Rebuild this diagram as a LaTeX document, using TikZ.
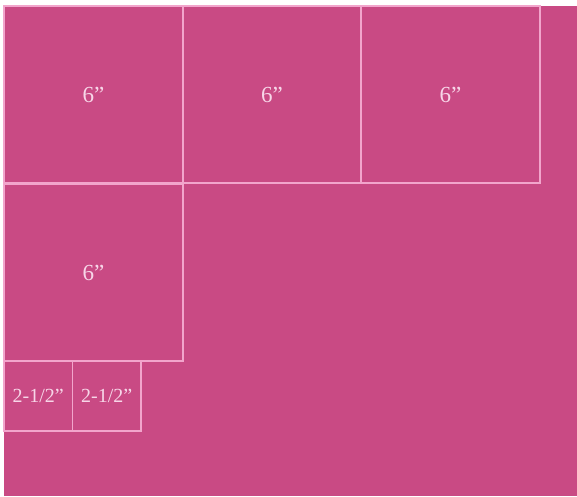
\documentclass[tikz,border=0pt]{standalone}
\usepackage{fontspec}
\setmainfont{Liberation Serif}
\usepackage{tikz}
\usetikzlibrary{positioning}
\definecolor{quiltpink}{RGB}{201,74,132}
\definecolor{seamline}{RGB}{242,165,204}
\definecolor{sizetext}{RGB}{247,214,232}

\begin{document}
\begin{tikzpicture}[x=1pt, y=-1pt,
  bigsq/.style={rectangle, draw=seamline, line width=1.3pt, inner sep=0pt,
    minimum width=179pt, minimum height=177pt, text=sizetext, font=\fontsize{23}{26}\selectfont},
  smallsq/.style={rectangle, draw=seamline, line width=1.3pt, inner sep=0pt,
    minimum width=68.5pt, minimum height=70pt, text=sizetext, font=\fontsize{20}{23}\selectfont},
]

% canvas
\fill[white] (0,0) rectangle (577,496);
\fill[quiltpink] (4,6) rectangle (577,496);

% six inch squares
\node[bigsq] (s1) at (93.5,94.5) {6”};
\node[bigsq] (s2) at (272,94.5) {6”};
\node[bigsq] (s3) at (450.5,94.5) {6”};
\node[bigsq] (s4) at (93.5,272.5) {6”};

% small squares
\node[smallsq] (t1) at (38.25,396) {2-1/2”};
\node[smallsq] (t2) at (106.75,396) {2-1/2”};

\end{tikzpicture}
\end{document}
